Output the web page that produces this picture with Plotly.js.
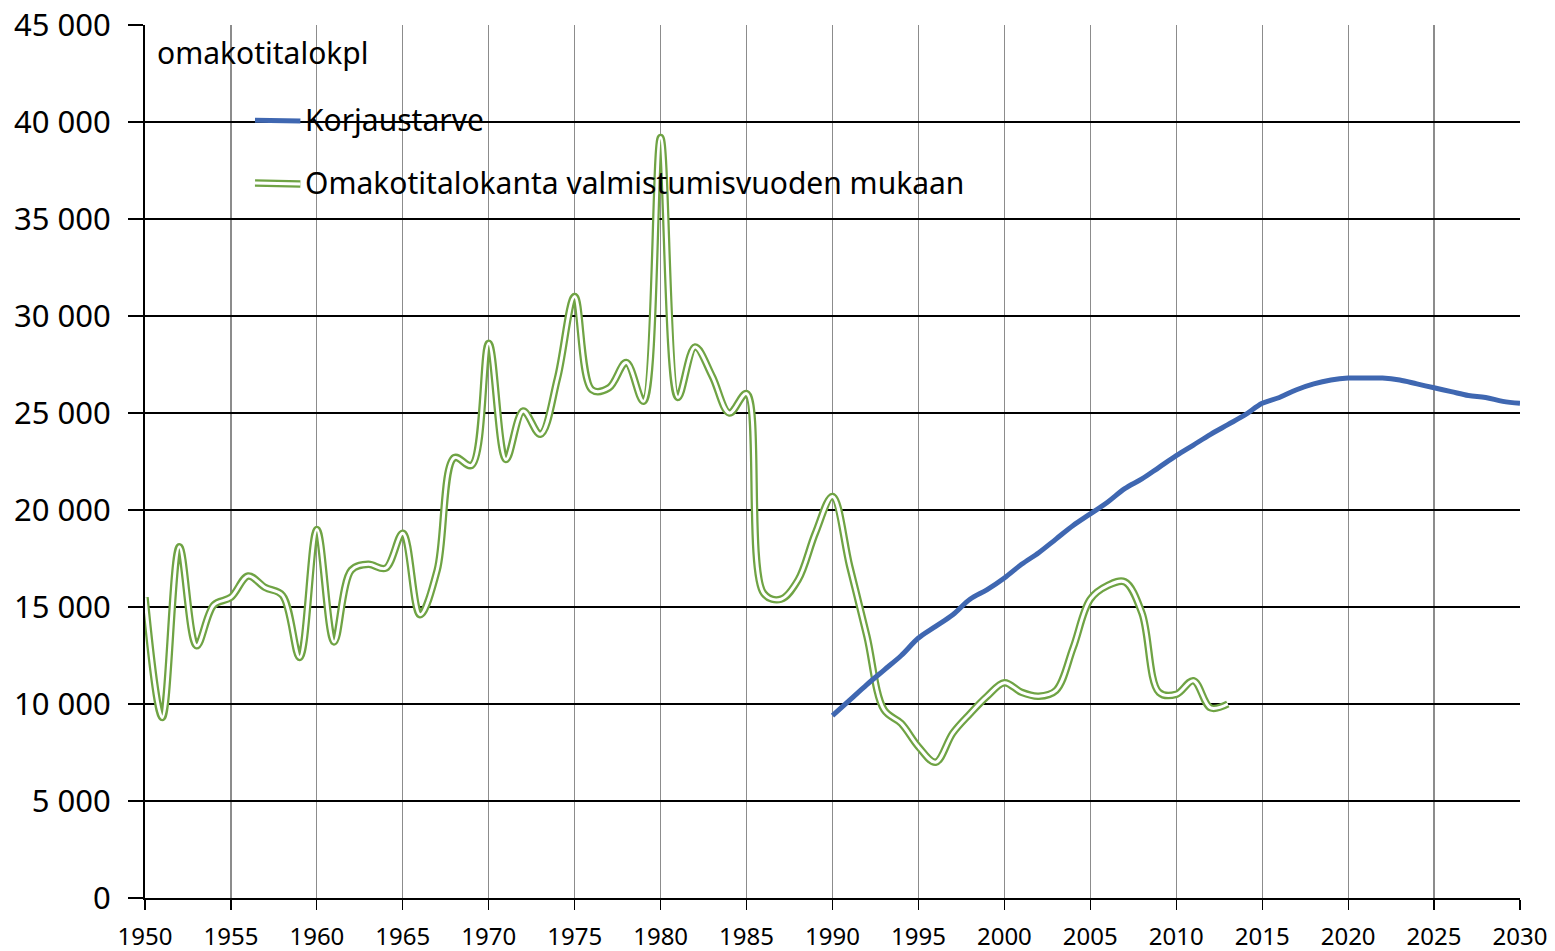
<!DOCTYPE html>
<html>
<head>
<meta charset="utf-8">
<script src="https://cdn.plot.ly/plotly-3.0.1.min.js"></script>
<style>
html,body{margin:0;padding:0;background:#fff;}
#chart{width:1555px;height:951px;}
</style>
</head>
<body>
<div id="chart"></div>
<script>
// Omakotitalokanta valmistumisvuoden mukaan (1950-2013)
const stockYears = [1950,1951,1952,1953,1954,1955,1956,1957,1958,1959,
  1960,1961,1962,1963,1964,1965,1966,1967,1968,1969,
  1970,1971,1972,1973,1974,1975,1976,1977,1978,1979,
  1980,1981,1982,1983,1984,1985,1986,1987,1988,1989,
  1990,1991,1992,1993,1994,1995,1996,1997,1998,1999,
  2000,2001,2002,2003,2004,2005,2006,2007,2008,2009,
  2010,2011,2012,2013];
const stockValues = [15500,9300,18100,13000,15100,15500,16600,16000,15600,12400,
  19000,13200,16900,17200,17000,18800,14600,16900,22700,22300,
  28600,22600,25100,23900,26800,31000,26200,26300,27600,25600,
  39200,25800,28400,26900,25000,26000,15700,15400,16400,18800,
  20700,17100,13500,9700,9000,7800,7000,8500,9500,10400,
  11100,10600,10400,10700,12900,15400,16100,16300,14700,10600,
  10500,11200,9800,10000];

// Korjaustarve (1990-2030)
const repairYears = [1990,1991,1992,1993,1994,1995,1996,1997,1998,1999,
  2000,2001,2002,2003,2004,2005,2006,2007,2008,2009,
  2010,2011,2012,2013,2014,2015,2016,2017,2018,2019,
  2020,2021,2022,2023,2024,2025,2026,2027,2028,2029,2030];
const repairValues = [9400,10200,11000,11750,12500,13400,14000,14600,15400,15900,
  16500,17200,17800,18500,19200,19800,20400,21100,21600,22200,
  22800,23350,23900,24400,24900,25500,25800,26200,26500,26700,
  26800,26800,26800,26700,26500,26300,26100,25900,25800,25600,25500];

const seriesNames = ["Korjaustarve", "Omakotitalokanta valmistumisvuoden mukaan"];
const unitLabel = "omakotitalokpl";

const blue = "#3F67B1";
const green = "#6FA344";
const font = "Noto Sans, Open Sans, sans-serif";

const traces = [
  {x: stockYears, y: stockValues, type: "scatter", mode: "lines", name: seriesNames[1],
   line: {color: green, width: 7.5, shape: "spline", smoothing: 1}, showlegend: false, hoverinfo: "skip"},
  {x: stockYears, y: stockValues, type: "scatter", mode: "lines", name: seriesNames[1],
   line: {color: "#ffffff", width: 3, shape: "spline", smoothing: 1}, showlegend: false},
  {x: repairYears, y: repairValues, type: "scatter", mode: "lines", name: seriesNames[0],
   line: {color: blue, width: 5, shape: "spline", smoothing: 1}, showlegend: false}
];

const layout = {
  width: 1555, height: 951,
  margin: {l: 145, r: 35, t: 25, b: 53},
  paper_bgcolor: "#fff", plot_bgcolor: "#fff",
  separators: ". ",
  showlegend: false,
  font: {family: font, color: "#000"},
  xaxis: {
    range: [1950, 2030], tick0: 1950, dtick: 5, tickformat: "d",
    showgrid: true, gridcolor: "#8c8c8c", gridwidth: 1.2,
    showline: true, linecolor: "#000", linewidth: 2,
    ticks: "outside", ticklen: 10, tickcolor: "#000", tickwidth: 1.2,
    ticklabelstandoff: 6,
    tickfont: {family: font, size: 24, color: "#000"},
    zeroline: false, fixedrange: true
  },
  yaxis: {
    range: [0, 45000], tick0: 0, dtick: 5000, tickformat: ",d",
    showgrid: true, gridcolor: "#000", gridwidth: 1.5,
    showline: true, linecolor: "#000", linewidth: 2,
    ticks: "outside", ticklen: 15, tickcolor: "#000", tickwidth: 1.5,
    ticklabelstandoff: 11,
    tickfont: {family: font, size: 31, color: "#000"},
    zeroline: false, fixedrange: true
  },
  shapes: [
    {type: "line", xref: "paper", yref: "paper", x0: 0.080, x1: 0.113, y0: 0.891, y1: 0.890,
     line: {color: blue, width: 5}},
    {type: "line", xref: "paper", yref: "paper", x0: 0.080, x1: 0.113, y0: 0.819, y1: 0.818,
     line: {color: green, width: 7.5}},
    {type: "line", xref: "paper", yref: "paper", x0: 0.080, x1: 0.113, y0: 0.819, y1: 0.818,
     line: {color: "#ffffff", width: 3}}
  ],
  annotations: [
    {text: unitLabel, xref: "paper", yref: "paper", x: 0.007, y: 0.969, xanchor: "left", yanchor: "middle",
     showarrow: false, font: {family: font, size: 30, color: "#000"}},
    {text: seriesNames[0], xref: "paper", yref: "paper", x: 0.115, y: 0.892, xanchor: "left", yanchor: "middle",
     showarrow: false, font: {family: font, size: 30, color: "#000"}},
    {text: seriesNames[1], xref: "paper", yref: "paper", x: 0.115, y: 0.820, xanchor: "left", yanchor: "middle",
     showarrow: false, font: {family: font, size: 30, color: "#000"}}
  ]
};

Plotly.newPlot("chart", traces, layout, {staticPlot: true, displayModeBar: false});
</script>
</body>
</html>
